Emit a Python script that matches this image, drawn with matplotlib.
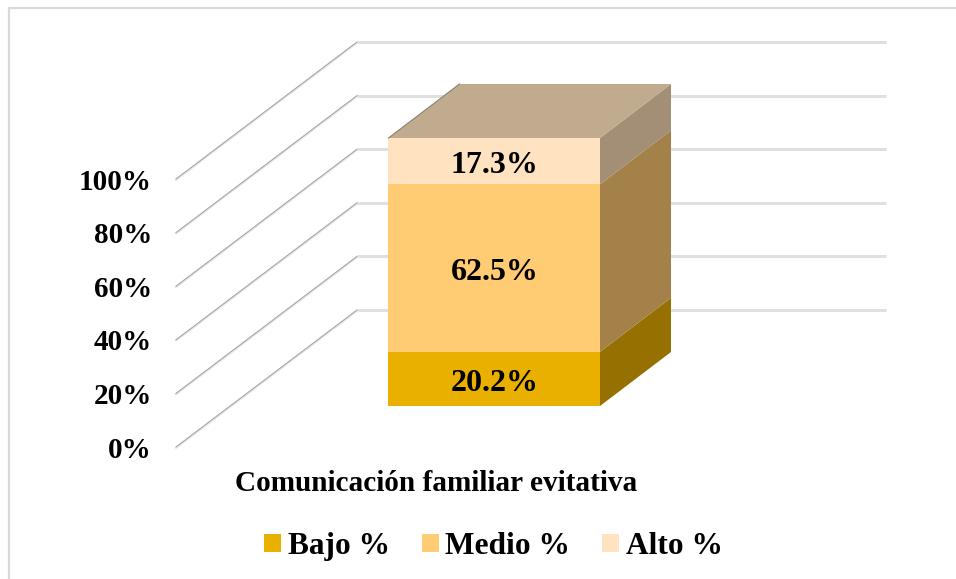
import matplotlib
matplotlib.use("Agg")
import matplotlib.pyplot as plt
from matplotlib.patches import Polygon, Patch

category = "Comunicación familiar evitativa"
series_names = ["Bajo %", "Medio %", "Alto %"]
bajo = 20.2
medio = 62.5
alto = 17.3
tick_values = [0, 20, 40, 60, 80, 100]
tick_labels = ["0%", "20%", "40%", "60%", "80%", "100%"]

front_colors = ["#EAB000", "#FFCB73", "#FFE2BF"]
side_colors = ["#967000", "#A38149", "#A38F75"]
top_color = "#C0AB8F"

plt.rcParams["font.family"] = ["Liberation Serif", "DejaVu Serif"]
plt.rcParams["font.weight"] = "bold"

fig = plt.figure(figsize=(9.56, 5.79), dpi=100)
ax = fig.add_axes([0, 0, 1, 1])
ax.set_xlim(0, 956)
ax.set_ylim(579, 0)
ax.axis("off")

# projection geometry (pixels)
PX_PER_PCT = 2.68
WALL_X0, WALL_X1, WALL_Y0 = 357, 886, 310
DX, DY = -181, 137            # wall -> front corner of floor
BAR_X0, BAR_X1, BAR_Y0 = 388.5, 600, 406
BAR_DX, BAR_DY = 71, -54


def wall_y(v):
    return WALL_Y0 - v * PX_PER_PCT


def bar_y(v):
    return BAR_Y0 - v * PX_PER_PCT


# chart frame
ax.plot([9, 9, 956], [579, 8, 8], color="#D9D9D9", lw=1.6, solid_joinstyle="miter", zorder=1)

# gridlines
for v in tick_values:
    y = wall_y(v)
    ax.plot([WALL_X0, WALL_X1], [y, y], color="#E0E0E0", lw=2.2, zorder=2,
            solid_capstyle="butt")
    ax.plot([WALL_X0, WALL_X0 + DX], [y + 1, y + 1 + DY], color="#E8E8E8", lw=1.4, zorder=2)
    ax.plot([WALL_X0, WALL_X0 + DX], [y, y + DY], color="#A6A6A6", lw=0.8, zorder=3)

# stacked 3D bar
values = [bajo, medio, alto]
base = 0.0
for val, fc, sc, name in zip(values, front_colors, side_colors, series_names):
    top = base + val
    yb, yt = bar_y(base), bar_y(top)
    ax.add_patch(Polygon([(BAR_X0, yb), (BAR_X1, yb), (BAR_X1, yt), (BAR_X0, yt)],
                         closed=True, fc=fc, ec="none", zorder=5))
    ax.add_patch(Polygon([(BAR_X1, yb), (BAR_X1 + BAR_DX, yb + BAR_DY),
                          (BAR_X1 + BAR_DX, yt + BAR_DY), (BAR_X1, yt)],
                         closed=True, fc=sc, ec="none", zorder=5))
    ax.text((BAR_X0 + BAR_X1) / 2 + 0.5, (yb + yt) / 2 + 4.5, f"{val:.1f}%", ha="center", va="center",
            fontsize=23, fontweight="bold", color="black", zorder=6)
    base = top

ytop = bar_y(base)
ax.add_patch(Polygon([(BAR_X0, ytop), (BAR_X1, ytop), (BAR_X1 + BAR_DX, ytop + BAR_DY),
                      (BAR_X0 + BAR_DX, ytop + BAR_DY)],
                     closed=True, fc=top_color, ec="none", zorder=5))
ax.plot([BAR_X0, BAR_X0 + BAR_DX], [ytop, ytop + BAR_DY], color="#8A8070", lw=0.8, zorder=6)

# tick labels
for v, lab in zip(tick_values, tick_labels):
    ax.text(152, wall_y(v) + DY + 3, lab, ha="right", va="center",
            fontsize=21, fontweight="bold", color="black")

# category label
ax.text(436.5, 483.5, category, ha="center", va="center", fontsize=21.1,
        fontweight="bold", color="black")

# legend
handles = [Patch(fc=c, ec="none", label=n) for c, n in zip(front_colors, series_names)]
ax.legend(handles=handles, ncol=3, loc="center", bbox_to_anchor=(493.5 / 956, 1 - 546.5 / 579),
          frameon=False, prop={"size": 22.6, "weight": "bold"},
          handlelength=0.54, handleheight=0.54, handletextpad=0.22,
          columnspacing=1.0, borderpad=0, borderaxespad=0)

fig.savefig("out.png", dpi=100)
